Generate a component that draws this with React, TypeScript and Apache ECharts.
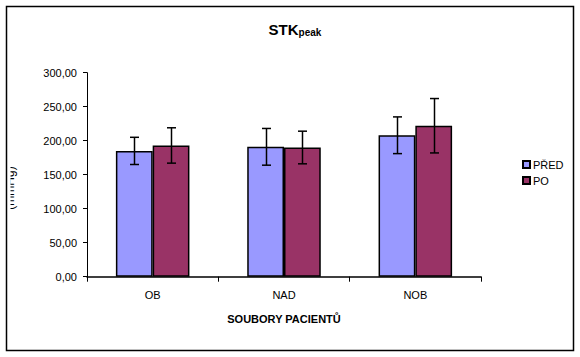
import React, { useEffect, useRef } from "react";
import * as echarts from "echarts";

const categories = ["OB", "NAD", "NOB"];
const seriesNames = ["PŘED", "PO"];
const predValues = [185, 191, 208];
const poValues = [193, 190, 222];
const predErrors = [20, 27, 27];
const poErrors = [26, 24, 40];
const yTicks = { min: 0, max: 300, interval: 50 };

const FONT = "'Liberation Sans', Arial, sans-serif";

export default function App() {
  const ref = useRef<HTMLDivElement>(null);
  useEffect(() => {
    if (!ref.current) return;
    const chart = echarts.init(ref.current, null, { renderer: "svg" });
    const catGap = 0.44;
    const makeErr = (vals: number[], errs: number[], sign: number) => ({
      type: "custom",
      silent: true,
      z: 10,
      data: vals.map((v, i) => [i, v - errs[i], v + errs[i]]),
      renderItem: (params: any, api: any) => {
        const ci = api.value(0);
        const lo = api.coord([ci, api.value(1)]);
        const hi = api.coord([ci, api.value(2)]);
        const cw = api.size([1, 0])[0];
        const bw = (cw * (1 - catGap)) / 2;
        const x = Math.round(lo[0] + (sign * bw) / 2) + 0.5;
        const cap = 4.5;
        const style = { stroke: "#000", lineWidth: 1.5 };
        return {
          type: "group",
          children: [
            { type: "line", shape: { x1: x, y1: lo[1], x2: x, y2: hi[1] }, style },
            { type: "line", shape: { x1: x - cap, y1: lo[1], x2: x + cap, y2: lo[1] }, style },
            { type: "line", shape: { x1: x - cap, y1: hi[1], x2: x + cap, y2: hi[1] }, style },
          ],
        };
      },
    });
    chart.setOption({
      animation: false,
      backgroundColor: "#fff",
      textStyle: { fontFamily: FONT },
      title: {
        text: "STK{sub|peak}",
        left: 290,
        top: 16,
        textAlign: "center",
        textStyle: {
          fontFamily: FONT,
          fontSize: 15,
          fontWeight: "bold",
          color: "#000",
          rich: {
            sub: { fontFamily: FONT, fontSize: 10, fontWeight: "bold", color: "#000", padding: [6, 0, 0, 0] },
          },
        },
      },
      legend: {
        orient: "vertical",
        left: 517,
        top: 154,
        itemWidth: 7,
        itemHeight: 7,
        itemGap: 5,
        icon: "rect",
        data: seriesNames,
        textStyle: { fontFamily: FONT, fontSize: 11, color: "#000", padding: [0, 0, 0, -2] },
      },
      grid: { left: 87, right: 99, top: 72.7, bottom: 80.3 },
      xAxis: {
        type: "category",
        data: categories,
        name: "SOUBORY PACIENTŮ",
        nameLocation: "middle",
        nameGap: 37,
        nameTextStyle: { fontFamily: FONT, fontSize: 11, fontWeight: "bold", color: "#000" },
        axisLine: { lineStyle: { color: "#000", width: 1.5 } },
        axisTick: { show: true, length: 5, lineStyle: { color: "#000" }, alignWithLabel: false },
        axisLabel: { fontFamily: FONT, fontSize: 11, color: "#000", margin: 13 },
      },
      yAxis: {
        type: "value",
        min: yTicks.min,
        max: yTicks.max,
        interval: yTicks.interval,
        axisLine: { show: true, lineStyle: { color: "#000", width: 1 } },
        axisTick: { show: true, length: 4, lineStyle: { color: "#000" } },
        splitLine: { show: false },
        axisLabel: {
          fontFamily: FONT,
          fontSize: 11,
          color: "#000",
          margin: 10,
          formatter: (v: number) => v.toFixed(2).replace(".", ","),
        },
      },
      series: [
        {
          name: seriesNames[0],
          type: "bar",
          data: predValues,
          barGap: "0%",
          barCategoryGap: "44%",
          itemStyle: { color: "#9999FF", borderColor: "#000", borderWidth: 1.5 },
        },
        {
          name: seriesNames[1],
          type: "bar",
          data: poValues,
          barGap: "0%",
          barCategoryGap: "44%",
          itemStyle: { color: "#993366", borderColor: "#000", borderWidth: 1.5 },
        },
        makeErr(predValues, predErrors, -1),
        makeErr(poValues, poErrors, 1),
      ],
      graphic: [
        {
          type: "text",
          x: 9.5,
          y: 188,
          rotation: Math.PI / 2,
          z: 1,
          style: {
            text: "(mmHg)",
            fontFamily: FONT,
            fontSize: 12,
            fill: "#000",
            align: "center",
            verticalAlign: "middle",
          },
          silent: true,
        },
        {
          type: "rect",
          z: 2,
          shape: { x: 0, y: 130, width: 10.5, height: 110 },
          style: { fill: "#fff" },
          silent: true,
        },
        {
          type: "rect",
          z: 3,
          shape: { x: 6.5, y: 6.5, width: 567, height: 344 },
          style: { fill: "none", stroke: "#000", lineWidth: 1.5 },
          silent: true,
        },
      ],
    });
    return () => chart.dispose();
  }, []);
  return <div ref={ref} style={{ width: 580, height: 357, position: "absolute", left: 0, top: 0 }} />;
}
